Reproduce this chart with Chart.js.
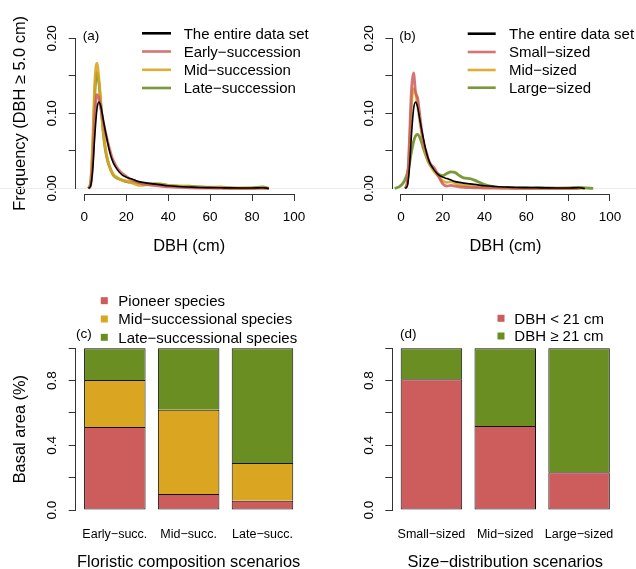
<!DOCTYPE html>
<html><head><meta charset="utf-8">
<script src="https://cdn.jsdelivr.net/npm/chart.js@4/dist/chart.umd.min.js"></script>
<style>
html,body{margin:0;padding:0;background:#fff;overflow:hidden;width:636px;height:569px}
canvas{position:absolute}
</style></head><body>
<canvas id="ca" width="318" height="280" style="left:0;top:0"></canvas>
<canvas id="cb" width="318" height="280" style="left:318px;top:0"></canvas>
<canvas id="cc" width="318" height="289" style="left:0;top:280px"></canvas>
<canvas id="cd" width="318" height="289" style="left:318px;top:280px"></canvas>
<script>
// ---------------- data ----------------
const dbhGrid = [-3,-2,-1,0,1,2,3,4,5,6,7,8,9,10,11,12,13,14,16,18,20,22,24,26,28,30,33,36,40,45,50,55,60,65,70,75,80,85,88,92];
const entireSet = [null,null,null,null,null, 0,0.003,0.025,0.07,0.105, 0.115,0.108,0.092,0.077,0.063, 0.05,0.04,0.033,0.024,0.018, 0.015,0.013,0.011,0.009,0.008, 0.007,0.006,0.005,0.0035,0.0025, 0.0018,0.0012,0.001,0.0008,0.0006, 0.0005,0.0005,0.0008,0,null];
const earlySucc = [null,null,null,null,null, 0,0.004,0.035,0.095,0.125, 0.12,0.105,0.09,0.076,0.064, 0.053,0.043,0.036,0.026,0.02, 0.016,0.012,0.01,0.008,0.006, 0.005,0.004,0.003,0.002,0.0012, 0.0008,0.0005,0.0003,0.0002,0.0001, 0.0001,0,0,0,null];
const midSucc = [null,null,null,null,null, 0,0.008,0.06,0.14,0.167, 0.145,0.11,0.078,0.055,0.04, 0.03,0.023,0.018,0.014,0.011, 0.01,0.008,0.006,0.004,0.004, 0.005,0.006,0.005,0.004,0.003, 0.002,0.002,0.0015,0.002,0.0005, 0.0003,0.0002,0.001,0,null];
const lateSucc = [null,null,null,null,null, 0,0.007,0.05,0.125,0.155, 0.14,0.108,0.075,0.052,0.038, 0.029,0.022,0.017,0.013,0.011, 0.009,0.008,0.008,0.007,0.006, 0.006,0.006,0.006,0.004,0.003, 0.003,0.002,0.001,0.0008,0.0005, 0.0003,0.0005,0.002,0,null];
const smallSized = [null,null,null,null,null, 0,0.008,0.06,0.13,0.154, 0.128,0.12,0.098,0.075,0.058, 0.05,0.04,0.033,0.027,0.016, 0.006,0.003,0.004,0.003,0.002, 0.0015,0.001,0.0008,0.0005,0.0003, 0.0002,0.0001,0,0,0, 0,0,0,null,null];
const midSized = [null,null,null,null,null, 0,0.006,0.05,0.11,0.133, 0.127,0.11,0.09,0.072,0.057, 0.046,0.037,0.031,0.022,0.016, 0.01,0.008,0.009,0.007,0.005, 0.004,0.003,0.002,0.0015,0.001, 0.0005,0.0003,0.0002,0.0001,0, 0,0,0,0,null];
const largeSized = [0,0.0008,0.002,0.004,0.007, 0.012,0.02,0.032,0.048,0.062, 0.07,0.072,0.068,0.06,0.051, 0.043,0.036,0.031,0.024,0.019, 0.017,0.02,0.022,0.021,0.017, 0.014,0.013,0.01,0.005,0.002, 0.001,0.0008,0.0008,0.0012,0.0006, 0.0004,0.0005,0.0012,0.0006,0];

const densityTicksX = [0,20,40,60,80,100];
const densityTicksY = [0,0.05,0.10,0.15,0.20];
const densityTickLabelsY = ['0.00','','0.10','','0.20'];

const floristicScenarios = ['Early\u2212succ.','Mid\u2212succ.','Late\u2212succ.'];
const pioneerShare = [0.513,0.099,0.058];
const midSuccShare = [0.291,0.521,0.232];
const lateSuccShare = [0.196,0.380,0.710];

const sizeScenarios = ['Small\u2212sized','Mid\u2212sized','Large\u2212sized'];
const smallDbhShare = [0.808,0.520,0.233];
const largeDbhShare = [0.192,0.480,0.767];

const basalTicksY = [0,0.2,0.4,0.6,0.8,1.0];
const basalTickLabelsY = ['0.0','','0.4','','0.8',''];

// ---------------- style ----------------
const FONT = "'Liberation Sans', Arial, Helvetica, sans-serif";
Chart.defaults.font.family = FONT;
Chart.defaults.color = '#000';
const AXIS = '#333';
const RED = 'rgb(205,92,92)', GOLD = 'rgb(218,165,32)', OLIVE = 'rgb(107,142,35)';
const REDL = 'rgba(205,92,92,0.85)', GOLDL = 'rgba(218,165,32,0.9)', OLIVEL = 'rgba(107,142,35,0.9)';
const TITLE_SIZE = 16.4;

const rdeco = {
  id: 'rdeco',
  beforeDatasetsDraw(chart, args, o) {
    if (!o.zeroLine) return;
    const ctx = chart.ctx;
    const y = Math.floor(chart.scales.y.getPixelForValue(0)) + 0.5;
    ctx.save();
    ctx.strokeStyle = '#ececec'; ctx.lineWidth = 1;
    ctx.beginPath(); ctx.moveTo(0, y); ctx.lineTo(chart.width, y); ctx.stroke();
    ctx.restore();
  },
  afterDraw(chart, args, o) {
    const ctx = chart.ctx, ca = chart.chartArea, xs = chart.scales.x, ys = chart.scales.y;
    const al = p => Math.round(p - 0.5) + 0.5;
    ctx.save();
    ctx.strokeStyle = AXIS; ctx.lineWidth = 1;
    ctx.beginPath();
    const xL = Math.floor(ca.left) + 0.5;
    ctx.moveTo(xL, al(ys.getPixelForValue(o.yTicks[0])) + 0.5);
    ctx.lineTo(xL, al(ys.getPixelForValue(o.yTicks[o.yTicks.length - 1])) - 0.5);
    if (o.xTicks) {
      const yB = Math.floor(ca.bottom) + 0.5;
      ctx.moveTo(al(xs.getPixelForValue(o.xTicks[0])) - 0.5, yB);
      ctx.lineTo(al(xs.getPixelForValue(o.xTicks[o.xTicks.length - 1])) + 0.5, yB);
    }
    ctx.stroke();
    ctx.fillStyle = '#000';
    ctx.textAlign = 'left'; ctx.textBaseline = 'alphabetic';
    ctx.font = '13.5px ' + FONT;
    ctx.fillText(o.panel.text, o.panel.x, o.panel.y);
    ctx.font = '15px ' + FONT;
    const L = o.legend;
    chart.data.datasets.forEach((ds, i) => {
      const y = L.rows[i];
      if (L.kind === 'line') {
        ctx.strokeStyle = ds.borderColor; ctx.lineWidth = 2.6;
        ctx.beginPath(); ctx.moveTo(L.x0, y); ctx.lineTo(L.x1, y); ctx.stroke();
      } else {
        ctx.fillStyle = ds.backgroundColor;
        ctx.fillRect(L.cx - 3.5, y - 3.5, 7, 7);
      }
      ctx.fillStyle = '#000';
      ctx.fillText(ds.label, L.textX, y + 5.4);
    });
    ctx.restore();
  }
};

function fixWidth(w) {
  return s => { s.width = w; s.paddingTop = s.paddingBottom = s.paddingLeft = s.paddingRight = 0; };
}
function fixHeight(h) {
  return s => { s.height = h; s.paddingTop = s.paddingBottom = s.paddingLeft = s.paddingRight = 0; };
}

function yScale(o) {
  return {
    type: 'linear', min: o.min, max: o.max, bounds: 'data', stacked: !!o.stacked,
    afterBuildTicks: s => { s.ticks = o.ticks.map(v => ({ value: v })); },
    afterFit: fixWidth(o.width),
    border: { display: false },
    grid: { drawOnChartArea: false, drawTicks: true, tickLength: 7, tickColor: AXIS, tickWidth: 1, color: AXIS },
    ticks: { autoSkip: false, minRotation: 90, maxRotation: 90, crossAlign: 'center', padding: o.pad,
             font: { size: 13.5 }, color: '#000', callback: (v, i) => o.labels[i] },
    title: o.title ? { display: true, text: o.title, color: '#000', font: { size: TITLE_SIZE }, padding: { top: 10.2, bottom: 0 } } : { display: false }
  };
}

function densityChart(id, geom, sets, panel, legend, yTitle) {
  const cv = document.getElementById(id);
  const W = cv.width, H = cv.height;
  const datasets = sets.map(s => ({
    label: s.label,
    data: dbhGrid.map((x, i) => ({ x: x, y: s.values[i] })),
    borderColor: s.color, borderWidth: s.width, pointRadius: 0,
    cubicInterpolationMode: 'monotone', spanGaps: true, fill: false
  }));
  return new Chart(cv, {
    type: 'line',
    data: { datasets },
    plugins: [rdeco],
    options: {
      responsive: false, animation: false, devicePixelRatio: 1,
      layout: { padding: { left: 0, top: geom.top, right: W - geom.right, bottom: 0 } },
      plugins: { legend: { display: false }, tooltip: { enabled: false },
        rdeco: { zeroLine: true, yTicks: densityTicksY, xTicks: densityTicksX, panel, legend } },
      scales: {
        x: {
          type: 'linear', min: -4.1, max: 104.1, bounds: 'data', offset: false,
          afterBuildTicks: s => { s.ticks = densityTicksX.map(v => ({ value: v })); },
          afterFit: fixHeight(H - geom.bottom),
          border: { display: false },
          grid: { drawOnChartArea: false, drawTicks: true, tickLength: 7, tickColor: AXIS, tickWidth: 1, color: AXIS, offset: false },
          ticks: { autoSkip: false, maxRotation: 0, padding: 8.5, font: { size: 13.5 }, color: '#000', callback: v => String(v) },
          title: { display: true, text: 'DBH (cm)', color: '#000', font: { size: TITLE_SIZE }, padding: { top: 0, bottom: 23.5 } }
        },
        y: yScale({ min: -0.0075, max: 0.2075, ticks: densityTicksY, labels: densityTickLabelsY, width: geom.left, pad: 2.9, title: yTitle })
      }
    }
  });
}

function basalChart(id, geom, cats, sets, panel, legend, xTitle, yTitle) {
  const cv = document.getElementById(id);
  const W = cv.width, H = cv.height;
  const pos = cats.map((c, i) => 0.7 + 1.2 * i);
  const datasets = sets.map((s, k) => ({
    label: s.label,
    data: pos.map((x, i) => ({ x: x, y: s.values[i] })),
    backgroundColor: s.color, borderColor: '#111', borderWidth: 1,
    borderSkipped: k === 0 ? false : 'start', inflateAmount: 0,
    barPercentage: 1 / 1.2, categoryPercentage: 1
  }));
  return new Chart(cv, {
    type: 'bar',
    data: { datasets },
    plugins: [rdeco],
    options: {
      responsive: false, animation: false, devicePixelRatio: 1,
      layout: { padding: { left: 0, top: geom.top, right: W - geom.right, bottom: 0 } },
      plugins: { legend: { display: false }, tooltip: { enabled: false },
        rdeco: { zeroLine: false, yTicks: basalTicksY, xTicks: null, panel, legend } },
      scales: {
        x: {
          type: 'linear', min: 0.064, max: 3.736, bounds: 'data', offset: false, stacked: true,
          afterBuildTicks: s => { s.ticks = pos.map(v => ({ value: v })); },
          afterFit: fixHeight(H - geom.bottom),
          border: { display: false },
          grid: { display: false, drawTicks: false, offset: false },
          ticks: { autoSkip: false, maxRotation: 0, padding: 11, font: { size: 12.5 }, color: '#000', callback: (v, i) => cats[i] },
          title: { display: true, text: xTitle, color: '#000', font: { size: TITLE_SIZE }, padding: { top: 0, bottom: -3.3 } }
        },
        y: yScale({ min: -0.04, max: 1.04, stacked: true, ticks: basalTicksY, labels: basalTickLabelsY, width: geom.left, pad: 6.6, title: yTitle })
      }
    }
  });
}

densityChart('ca', { left: 75.7, right: 302.6, top: 32.7, bottom: 194 }, [
  { label: 'The entire data set', values: entireSet, color: '#000', width: 1.6 },
  { label: 'Early\u2212succession', values: earlySucc, color: REDL, width: 2.8 },
  { label: 'Mid\u2212succession', values: midSucc, color: GOLDL, width: 2.8 },
  { label: 'Late\u2212succession', values: lateSucc, color: OLIVEL, width: 2.8 }
], { text: '(a)', x: 82.7, y: 39.5 },
   { kind: 'line', x0: 142, x1: 171, textX: 183.7, rows: [33.3, 51.5, 69.8, 88] },
   'Frequency (DBH \u2265 5.0 cm)');

densityChart('cb', { left: 74.4, right: 300.5, top: 32.7, bottom: 194 }, [
  { label: 'The entire data set', values: entireSet, color: '#000', width: 1.6 },
  { label: 'Small\u2212sized', values: smallSized, color: REDL, width: 2.8 },
  { label: 'Mid\u2212sized', values: midSized, color: GOLDL, width: 2.8 },
  { label: 'Large\u2212sized', values: largeSized, color: OLIVEL, width: 2.8 }
], { text: '(b)', x: 81.3, y: 40 },
   { kind: 'line', x0: 149.7, x1: 177.7, textX: 191, rows: [33.7, 52, 70, 87.7] },
   null);

basalChart('cc', { left: 75.7, right: 301.6, top: 61.8, bottom: 236.5 }, floristicScenarios, [
  { label: 'Pioneer species', values: pioneerShare, color: RED },
  { label: 'Mid\u2212successional species', values: midSuccShare, color: GOLD },
  { label: 'Late\u2212successional species', values: lateSuccShare, color: OLIVE }
], { text: '(c)', x: 76, y: 58 },
   { kind: 'box', cx: 104.3, textX: 118.3, rows: [20.7, 39, 57.3] },
   'Floristic composition scenarios', 'Basal area (%)');

basalChart('cd', { left: 74.3, right: 300.2, top: 61.8, bottom: 236.5 }, sizeScenarios, [
  { label: 'DBH < 21 cm', values: smallDbhShare, color: RED },
  { label: 'DBH \u2265 21 cm', values: largeDbhShare, color: OLIVE }
], { text: '(d)', x: 82, y: 58 },
   { kind: 'box', cx: 183, textX: 196.3, rows: [38.3, 56] },
   'Size\u2212distribution scenarios', null);
</script>
</body></html>
